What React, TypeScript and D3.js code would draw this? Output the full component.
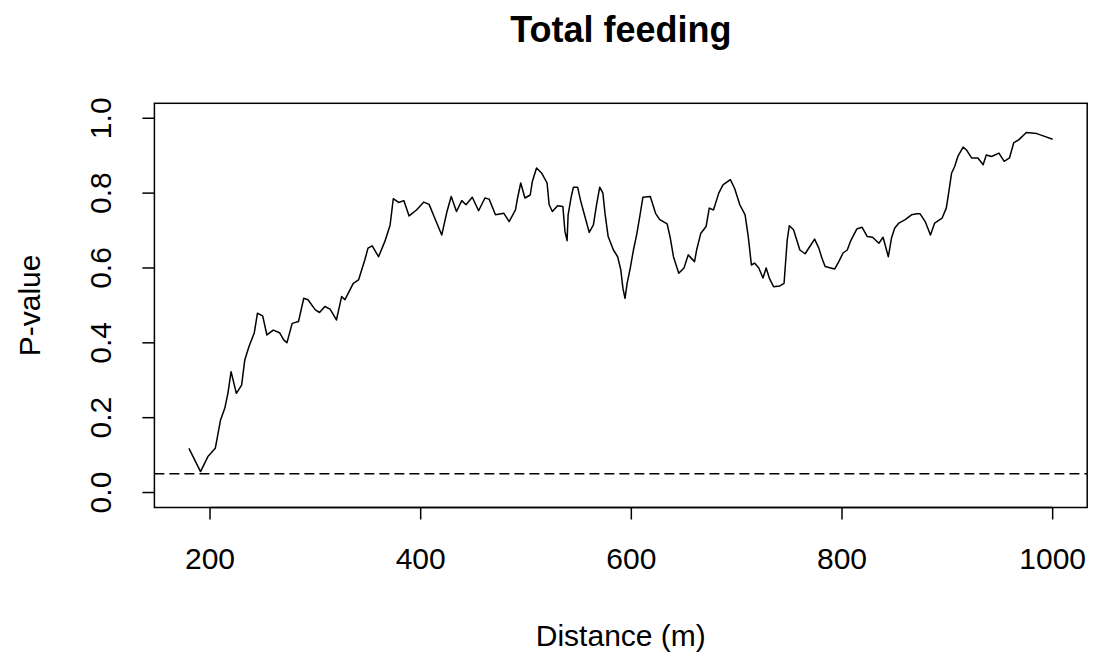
import React, { useEffect, useRef } from "react";
import * as d3 from "d3";

const distances = [
  180, 191, 198, 205, 210, 214, 217, 220, 225, 230, 233, 237, 242, 245, 250, 254, 260, 266, 270, 273,
  278, 284, 289, 293, 300, 304, 309, 314, 320, 325, 328, 336, 341, 347, 350, 354, 360, 366, 371, 374,
  379, 384, 389, 396, 403, 408, 414, 420, 425, 429, 434, 439, 443, 449, 455, 461, 465, 471, 479, 484,
  490, 492, 495, 499, 504, 506, 510, 515, 520, 522, 525, 530, 535, 537, 539, 540, 543, 545, 549, 552,
  556, 560, 564, 567, 570, 573, 575, 578, 583, 587, 590, 592, 594, 596, 599, 602, 605, 608, 611, 618,
  623, 627, 634, 637, 640, 645, 650, 654, 660, 662, 666, 671, 674, 678, 683, 687, 694, 698, 703, 708,
  711, 714, 717, 721, 725, 728, 731, 735, 741, 745, 748, 750, 754, 760, 765, 771, 774, 778, 781, 784,
  793, 797, 801, 805, 808, 814, 819, 824, 829, 835, 839, 844, 847, 850, 854, 860, 866, 871, 874, 879,
  884, 888, 895, 899, 901, 904, 907, 910, 915, 918, 923, 929, 934, 937, 942, 949, 954, 959, 963, 968,
  975, 985, 991, 1000,
];

const pValues = [
  0.118, 0.056, 0.096, 0.118, 0.194, 0.225, 0.265, 0.323, 0.265, 0.287, 0.354, 0.39, 0.426, 0.479, 0.472, 0.421, 0.434, 0.427, 0.408, 0.4,
  0.452, 0.457, 0.519, 0.515, 0.488, 0.481, 0.497, 0.49, 0.461, 0.524, 0.515, 0.559, 0.568, 0.622, 0.653, 0.659, 0.63, 0.671, 0.715, 0.785,
  0.775, 0.78, 0.739, 0.755, 0.776, 0.77, 0.729, 0.688, 0.751, 0.791, 0.751, 0.78, 0.769, 0.789, 0.753, 0.787, 0.784, 0.742, 0.746, 0.724,
  0.755, 0.787, 0.827, 0.787, 0.795, 0.831, 0.867, 0.853, 0.827, 0.769, 0.751, 0.766, 0.764, 0.697, 0.673, 0.742, 0.791, 0.816, 0.816, 0.778,
  0.737, 0.695, 0.715, 0.769, 0.816, 0.8, 0.746, 0.684, 0.648, 0.63, 0.595, 0.546, 0.519, 0.559, 0.6, 0.648, 0.688, 0.737, 0.789, 0.791,
  0.746, 0.729, 0.718, 0.68, 0.63, 0.586, 0.6, 0.635, 0.617, 0.648, 0.693, 0.711, 0.76, 0.755, 0.8, 0.822, 0.836, 0.813, 0.769, 0.742,
  0.684, 0.608, 0.613, 0.6, 0.573, 0.6, 0.573, 0.55, 0.552, 0.559, 0.675, 0.713, 0.702, 0.648, 0.638, 0.664, 0.677, 0.653, 0.626, 0.604,
  0.597, 0.617, 0.64, 0.648, 0.671, 0.704, 0.709, 0.684, 0.682, 0.666, 0.682, 0.63, 0.68, 0.706, 0.72, 0.729, 0.742, 0.745, 0.745, 0.724,
  0.688, 0.72, 0.733, 0.76, 0.795, 0.853, 0.871, 0.898, 0.923, 0.916, 0.894, 0.894, 0.876, 0.902, 0.898, 0.907, 0.885, 0.894, 0.934, 0.943,
  0.962, 0.959, 0.953, 0.944,
];

const xTicks = [200, 400, 600, 800, 1000];
const yTicks = [0, 0.2, 0.4, 0.6, 0.8, 1.0];
const threshold = 0.05;
const titleText = "Total feeding";
const xLabel = "Distance (m)";
const yLabel = "P-value";

export default function App() {
  const ref = useRef<SVGSVGElement | null>(null);

  useEffect(() => {
    document.body.style.margin = "0";
    const svg = d3.select(ref.current);
    svg.selectAll("*").remove();

    const W = 1093;
    const H = 655;
    const left = 154.4, right = 1087.2, top = 103.3, bottom = 507.5;
    const xMin = d3.min(distances)!, xMax = d3.max(distances)!;
    const xPad = (xMax - xMin) * 0.04;
    const x = d3.scaleLinear().domain([xMin - xPad, xMax + xPad]).range([left, right]);
    const y = d3.scaleLinear().domain([-0.04, 1.04]).range([bottom, top]);

    svg.append("rect").attr("width", W).attr("height", H).attr("fill", "#ffffff");

    const font = "'Liberation Sans', Arial, sans-serif";

    // title
    svg.append("text")
      .attr("x", (left + right) / 2).attr("y", 42)
      .attr("text-anchor", "middle")
      .attr("font-family", font).attr("font-weight", "bold").attr("font-size", 36)
      .attr("fill", "#000").text(titleText);

    // box
    svg.append("rect")
      .attr("x", left).attr("y", top)
      .attr("width", right - left).attr("height", bottom - top)
      .attr("fill", "none").attr("stroke", "#000").attr("stroke-width", 1.5);

    // x axis
    const tickLen = 12;
    const gx = svg.append("g");
    gx.append("line")
      .attr("x1", x(xTicks[0])).attr("x2", x(xTicks[xTicks.length - 1]))
      .attr("y1", bottom).attr("y2", bottom)
      .attr("stroke", "#000").attr("stroke-width", 1.5);
    xTicks.forEach((t) => {
      gx.append("line")
        .attr("x1", x(t)).attr("x2", x(t))
        .attr("y1", bottom).attr("y2", bottom + tickLen)
        .attr("stroke", "#000").attr("stroke-width", 1.5);
      gx.append("text")
        .attr("x", x(t)).attr("y", 569)
        .attr("text-anchor", "middle")
        .attr("font-family", font).attr("font-size", 30)
        .attr("fill", "#000").text(String(t));
    });

    // y axis
    const gy = svg.append("g");
    yTicks.forEach((t) => {
      gy.append("line")
        .attr("x1", left - tickLen).attr("x2", left)
        .attr("y1", y(t)).attr("y2", y(t))
        .attr("stroke", "#000").attr("stroke-width", 1.5);
      gy.append("text")
        .attr("transform", `translate(111,${y(t)}) rotate(-90)`)
        .attr("text-anchor", "middle")
        .attr("font-family", font).attr("font-size", 30)
        .attr("fill", "#000").text(t.toFixed(1));
    });

    // axis labels
    svg.append("text")
      .attr("x", (left + right) / 2).attr("y", 646)
      .attr("text-anchor", "middle")
      .attr("font-family", font).attr("font-size", 30)
      .attr("fill", "#000").text(xLabel);
    svg.append("text")
      .attr("transform", `translate(40,${(top + bottom) / 2}) rotate(-90)`)
      .attr("text-anchor", "middle")
      .attr("font-family", font).attr("font-size", 30)
      .attr("fill", "#000").text(yLabel);

    // threshold line
    svg.append("line")
      .attr("x1", left).attr("x2", right)
      .attr("y1", y(threshold)).attr("y2", y(threshold))
      .attr("stroke", "#000").attr("stroke-width", 1.6)
      .attr("stroke-dasharray", "10,5");

    // data line
    const data = distances.map((d, i) => [d, pValues[i]] as [number, number]);
    const line = d3.line<[number, number]>().x((d) => x(d[0])).y((d) => y(d[1]));
    svg.append("path")
      .datum(data)
      .attr("d", line)
      .attr("fill", "none").attr("stroke", "#000").attr("stroke-width", 1.5)
      .attr("stroke-linejoin", "round");
  }, []);

  return (
    <div style={{ position: "absolute", left: 0, top: 0 }}>
      <svg ref={ref} width={1093} height={655} style={{ display: "block" }} />
    </div>
  );
}
